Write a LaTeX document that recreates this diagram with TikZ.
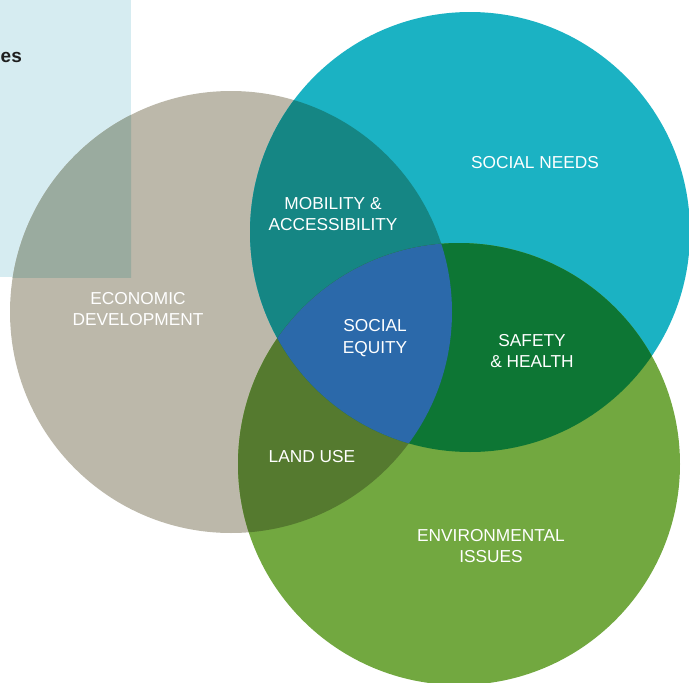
\documentclass[tikz,border=0pt]{standalone}
\usepackage{fontspec}
\setmainfont{Liberation Sans}
\definecolor{beigec}{HTML}{BCB8AA}
\definecolor{tealc}{HTML}{1BB2C3}
\definecolor{greenc}{HTML}{72A840}
\definecolor{tealbeige}{HTML}{158684}
\definecolor{greenbeige}{HTML}{557A2F}
\definecolor{tealgreen}{HTML}{0D7634}
\definecolor{triplec}{HTML}{2B69AA}
\definecolor{rectc}{HTML}{D6ECF1}
\definecolor{rectbeige}{HTML}{9AAB9F}
\definecolor{darktext}{HTML}{1E1E1E}
\begin{document}
\begin{tikzpicture}[x=1pt,y=-1pt,
  lbl/.style={text=white, font=\fontsize{17.3}{21.5}\selectfont, align=center, inner sep=0pt}]
\useasboundingbox (0,0) rectangle (689,683);
\clip (0,0) rectangle (689,683);
% background panel
\fill[rectc] (0,0) rectangle (131,277);
% circles
\fill[beigec] (231,312) circle (221pt);
\fill[tealc] (470,232) circle (220pt);
\fill[greenc] (459,464) circle (221pt);
% overlaps
\begin{scope}
  \clip (0,0) rectangle (131,277);
  \fill[rectbeige] (231,312) circle (221pt);
\end{scope}
\begin{scope}
  \clip (231,312) circle (221pt);
  \fill[tealbeige] (470,232) circle (220pt);
\end{scope}
\begin{scope}
  \clip (231,312) circle (221pt);
  \fill[greenbeige] (459,464) circle (221pt);
\end{scope}
\begin{scope}
  \clip (470,232) circle (220pt);
  \fill[tealgreen] (459,464) circle (221pt);
\end{scope}
\begin{scope}
  \clip (470,232) circle (220pt);
  \clip (459,464) circle (221pt);
  \fill[triplec] (231,312) circle (221pt);
\end{scope}
% texts
\node[anchor=base west, inner sep=0pt, text=darktext, font=\bfseries\fontsize{19}{19}\selectfont] (es) at (0.5,62) {es};
\node[lbl] (social) at (535,163) {SOCIAL NEEDS};
\node[lbl] (mobility) at (333,214) {MOBILITY \&\\ACCESSIBILITY};
\node[lbl] (econ) at (138,309) {ECONOMIC\\DEVELOPMENT};
\node[lbl] (equity) at (375,338) {SOCIAL\\EQUITY};
\node[lbl] (safety) at (532,351) {SAFETY\\\& HEALTH};
\node[lbl] (land) at (312,457) {LAND USE};
\node[lbl] (env) at (491,546) {ENVIRONMENTAL\\ISSUES};
\end{tikzpicture}
\end{document}
